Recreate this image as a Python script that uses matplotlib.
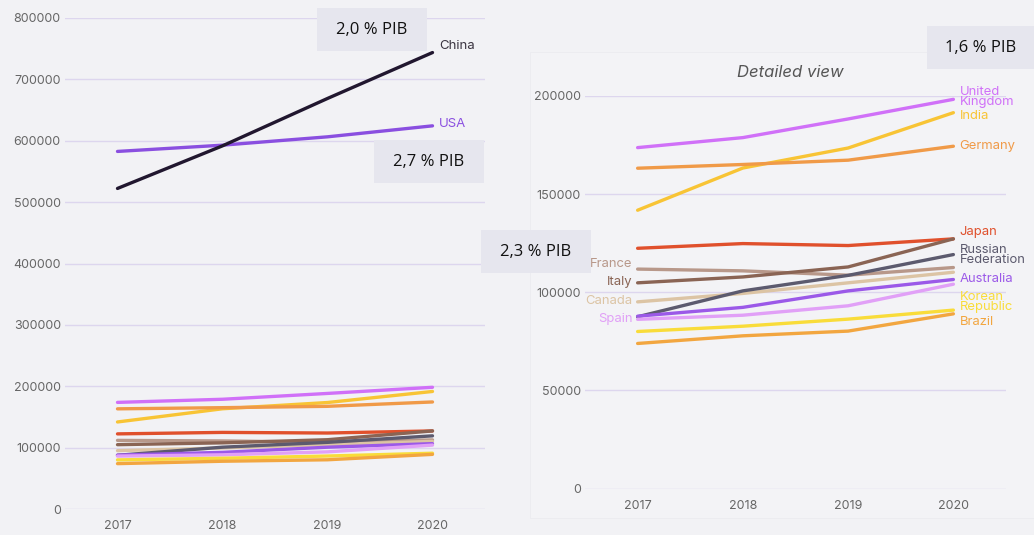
import matplotlib.pyplot as plt
from matplotlib.patches import Rectangle

plt.rcParams['font.family'] = ['Inter', 'DejaVu Sans']

years = [2017, 2018, 2019, 2020]

# dépenses R&D (millions) par pays
china = [522300, 591700, 668900, 743700]
usa = [582600, 592800, 606400, 624300]
uk = [173700, 178800, 188300, 198300]
india = [141800, 163300, 173500, 191500]
germany = [163200, 165100, 167300, 174400]
japan = [122400, 124800, 123800, 127200]
france = [111800, 110900, 108700, 112600]
italy = [104800, 107800, 112900, 127200]
canada = [95100, 99400, 104800, 110200]
russia = [87500, 100700, 108600, 119200]
australia = [87800, 92300, 100700, 106500]
spain = [86200, 88300, 93100, 104100]
korea = [80000, 82700, 86300, 90900]
brazil = [73900, 77800, 80200, 89000]

left_ticks = [0, 100000, 200000, 300000, 400000, 500000, 600000, 700000, 800000]
right_ticks = [0, 50000, 100000, 150000, 200000]

BG = '#f2f2f5'
GRID = '#ddd6ee'
TICK = '#666666'

small = [
    (uk, '#d070f8', 'United\nKingdom', 'r', 199500),
    (india, '#f8c435', 'India', 'r', 189700),
    (germany, '#f09a48', 'Germany', 'r', 174400),
    (japan, '#e0502c', 'Japan', 'r', 130600),
    (france, '#b8988a', 'France', 'l', 114300),
    (italy, '#8a6454', 'Italy', 'l', 105100),
    (canada, '#dcc4a4', 'Canada', 'l', 95500),
    (russia, '#5c5a6e', 'Russian\nFederation', 'r', 118900),
    (australia, '#9b59e8', 'Australia', 'r', 106700),
    (spain, '#e1a0f7', 'Spain', 'l', 86300),
    (korea, '#f9dc3a', 'Korean\nRepublic', 'r', 95000),
    (brazil, '#f2a640', 'Brazil', 'r', 84800),
]

fig = plt.figure(figsize=(10.34, 5.35), dpi=100)
fig.patch.set_facecolor(BG)

W, H = 1034, 535

# léger fond du panneau de droite
fig.patches.append(Rectangle((530 / W, 17 / H), 504 / W, 466 / H,
                             transform=fig.transFigure, facecolor='#f3f3f6',
                             edgecolor='#ebebf0', lw=0.6, zorder=-1))


def style(ax, ticks):
    ax.set_facecolor('none')
    for s in ax.spines.values():
        s.set_visible(False)
    ax.set_xlim(2016.5, 2020.5)
    ax.set_xticks(years)
    ax.set_yticks(ticks)
    ax.set_yticklabels([str(t) for t in ticks])
    ax.tick_params(length=0, labelsize=9, labelcolor=TICK)
    ax.tick_params(axis='y', pad=3)
    ax.tick_params(axis='x', pad=8)
    ax.grid(axis='y', color=GRID, lw=1)
    ax.set_axisbelow(True)


# panneau gauche : vue d'ensemble
ax1 = fig.add_axes([65 / W, (H - 509) / H, 420 / W, 491 / H])
style(ax1, left_ticks)
ax1.set_ylim(0, 800000)
for vals, col, _, _, _ in small:
    ax1.plot(years, vals, color=col, lw=2.4, solid_capstyle='round')
ax1.plot(years, usa, color='#8a4fe0', lw=2.4, solid_capstyle='round')
ax1.plot(years, china, color='#21172f', lw=2.4, solid_capstyle='round')
ax1.text(2020.06, 754000, 'China', color='#3a3440', fontsize=9.5, va='center')
ax1.text(2020.06, 627000, 'USA', color='#8a4fe0', fontsize=9.5, va='center')

# panneau droit : vue détaillée
ax2 = fig.add_axes([585 / W, (H - 488.5) / H, 421 / W, 392.5 / H])
style(ax2, right_ticks)
ax2.set_ylim(0, 200000)
for vals, col, name, side, ly in small:
    ax2.plot(years, vals, color=col, lw=2.4, solid_capstyle='round', clip_on=False)
    if side == 'r':
        ax2.text(2020.06, ly, name, color=col, fontsize=9.4, va='center',
                 ha='left', linespacing=0.85)
    else:
        ax2.text(2016.95, ly, name, color=col, fontsize=9.4, va='center', ha='right')
ax2.text(2018.45, 212000, 'Detailed view', color='#555555', fontsize=12,
         style='italic', ha='center', va='center')

# encadrés % PIB
boxes = [
    ('2,0 % PIB', 317, 8, 110, 43),
    ('2,7 % PIB', 374, 140, 110, 43),
    ('2,3 % PIB', 481, 230, 110, 43),
    ('1,6 % PIB', 927, 26, 107, 43),
]
for txt, x, y, w, h in boxes:
    fig.patches.append(Rectangle((x / W, (H - y - h) / H), w / W, h / H,
                                 transform=fig.transFigure, facecolor='#e6e6ee',
                                 edgecolor='none', zorder=5))
    fig.text((x + w / 2) / W, (H - y - h / 2) / H, txt, fontsize=12,
             family=['Open Sans', 'DejaVu Sans'], color='#111111',
             ha='center', va='center', zorder=6)

fig.savefig('out.png', dpi=100, facecolor=BG)
